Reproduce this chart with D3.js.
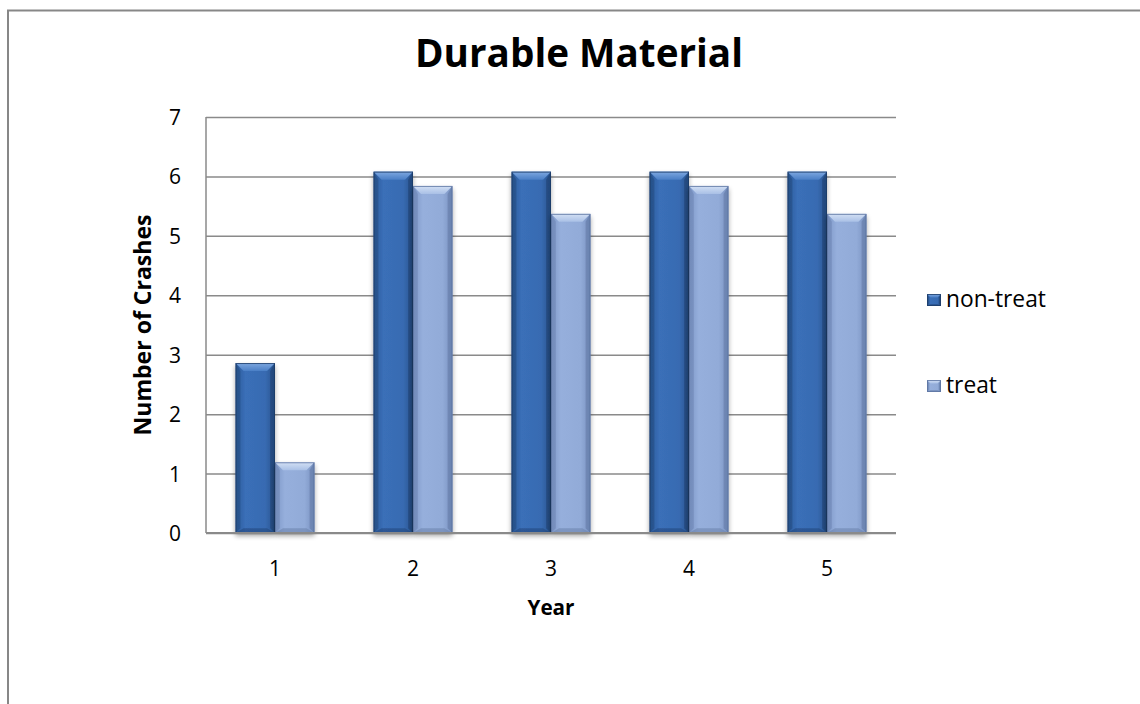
<!DOCTYPE html>
<html>
<head>
<meta charset="utf-8">
<script src="https://cdn.jsdelivr.net/npm/d3@7"></script>
<style>
  html, body { margin: 0; padding: 0; background: #fff; }
  svg { display: block; }
  text { font-family: "Open Sans", Lato, sans-serif; fill: #000; }
</style>
</head>
<body>
<svg id="chart" width="1140" height="704"></svg>
<script>
const categories = ["1", "2", "3", "4", "5"];
const seriesNames = ["non-treat", "treat"];
const nonTreat = [2.86, 6.08, 6.08, 6.08, 6.08];
const treat = [1.19, 5.84, 5.37, 5.84, 5.37];
const yTicks = [0, 1, 2, 3, 4, 5, 6, 7];
const chartTitle = "Durable Material";
const xTitle = "Year";
const yTitle = "Number of Crashes";

const svg = d3.select("#chart");
const W = 1140, H = 704;
const plot = { left: 206, right: 896, top: 117, bottom: 533 };
const FONT = "'Open Sans', Lato, sans-serif";

const defs = svg.append("defs");
const styles = {
  "non-treat": { body: ["#2B5A9A", "#3A6FB8", "#386BB2", "#27528D"], top: ["#7FA8E0", "#4A7FC6"], bottom: "#22467A", edge: "#1D3C68" },
  "treat": { body: ["#7D97C7", "#96AFDC", "#92ABD8", "#7891C0"], top: ["#D3E0F4", "#A9C0E6"], bottom: "#6A81AC", edge: "#5B73A0" }
};
Object.entries(styles).forEach(([k, s], i) => {
  const g = defs.append("linearGradient").attr("id", "body" + i).attr("x1", 0).attr("x2", 1).attr("y1", 0).attr("y2", 0);
  [0, 0.25, 0.75, 1].forEach((o, j) => g.append("stop").attr("offset", o).attr("stop-color", s.body[j]));
  const t = defs.append("linearGradient").attr("id", "top" + i).attr("x1", 0).attr("x2", 0).attr("y1", 0).attr("y2", 1);
  t.append("stop").attr("offset", 0).attr("stop-color", s.top[0]);
  t.append("stop").attr("offset", 1).attr("stop-color", s.top[1]);
});
const shadow = defs.append("filter").attr("id", "shadow").attr("x", "-20%").attr("y", "-20%").attr("width", "140%").attr("height", "140%");
shadow.append("feGaussianBlur").attr("in", "SourceAlpha").attr("stdDeviation", 2.5);
shadow.append("feOffset").attr("dx", 0).attr("dy", 3).attr("result", "b");
shadow.append("feComponentTransfer").append("feFuncA").attr("type", "linear").attr("slope", 0.35);
const fm = shadow.append("feMerge");
fm.append("feMergeNode");
fm.append("feMergeNode").attr("in", "SourceGraphic");

// outer chart border (only top and left visible)
svg.append("path")
  .attr("d", `M8,${H + 5} L8,10.5 L${W + 5},10.5`)
  .attr("fill", "none").attr("stroke", "#878787").attr("stroke-width", 2);

const x = d3.scaleBand().domain(categories).range([plot.left, plot.right]).paddingInner(0).paddingOuter(0);
const xs = d3.scaleBand().domain(seriesNames).range([0, x.bandwidth()]).paddingInner(0).paddingOuter(0.75);
const y = d3.scaleLinear().domain([0, 7]).range([plot.bottom, plot.top]);

// gridlines
const grid = svg.append("g").attr("transform", `translate(${plot.left},0)`)
  .call(d3.axisLeft(y).tickValues(yTicks).tickSize(-(plot.right - plot.left)).tickFormat(""));
grid.select(".domain").remove();
grid.selectAll("line").attr("stroke", "#8A8A8A").attr("stroke-width", 1.5);

const data = [];
categories.forEach((c, i) => {
  data.push({ cat: c, s: "non-treat", v: nonTreat[i], idx: 0 });
  data.push({ cat: c, s: "treat", v: treat[i], idx: 1 });
});

function drawBevelBar(g, x0, y0, w, h, idx, bevel) {
  const s = styles[seriesNames[idx]];
  const b = Math.min(bevel, h / 2, w / 4);
  g.append("rect").attr("x", x0).attr("y", y0).attr("width", w).attr("height", h).attr("fill", `url(#body${idx})`);
  g.append("path").attr("d", `M${x0},${y0} L${x0 + w},${y0} L${x0 + w - b},${y0 + b} L${x0 + b},${y0 + b} Z`).attr("fill", `url(#top${idx})`);
  g.append("path").attr("d", `M${x0},${y0 + h} L${x0 + w},${y0 + h} L${x0 + w - b},${y0 + h - b * 0.6} L${x0 + b},${y0 + h - b * 0.6} Z`).attr("fill", s.bottom).attr("opacity", 0.55);
  g.append("path").attr("d", `M${x0},${y0} L${x0 + b * 0.6},${y0 + b} L${x0 + b * 0.6},${y0 + h - b * 0.6} L${x0},${y0 + h} Z`).attr("fill", s.edge).attr("opacity", 0.35);
  g.append("path").attr("d", `M${x0 + w},${y0} L${x0 + w - b * 0.6},${y0 + b} L${x0 + w - b * 0.6},${y0 + h - b * 0.6} L${x0 + w},${y0 + h} Z`).attr("fill", s.edge).attr("opacity", 0.5);
  g.append("rect").attr("x", x0 + 0.5).attr("y", y0 + 0.5).attr("width", w - 1).attr("height", h - 1).attr("fill", "none").attr("stroke", s.edge).attr("stroke-width", 1).attr("opacity", 0.8);
}

const barsG = svg.append("g");
data.forEach(d => {
  const g = barsG.append("g").attr("filter", "url(#shadow)");
  const x0 = x(d.cat) + xs(d.s);
  const y0 = y(d.v);
  drawBevelBar(g, x0, y0, xs.bandwidth(), y(0) - y0, d.idx, 8);
});

// y axis line
svg.append("line").attr("x1", plot.left).attr("x2", plot.left).attr("y1", plot.top).attr("y2", plot.bottom)
  .attr("stroke", "#8A8A8A").attr("stroke-width", 1.5);
// x axis
const xAxis = svg.append("g").attr("transform", `translate(0,${plot.bottom})`)
  .call(d3.axisBottom(x).tickSize(0).tickPadding(0));
xAxis.select(".domain").attr("stroke", "#8A8A8A").attr("stroke-width", 2).attr("d", `M${plot.left},0H${plot.right}`);
xAxis.selectAll("text").attr("dy", null).attr("y", 43).attr("font-size", 21).attr("font-family", FONT).attr("fill", "#000");

// y tick labels
const yAxis = svg.append("g").attr("transform", `translate(${plot.left},0)`)
  .call(d3.axisLeft(y).tickValues(yTicks).tickSize(0).tickFormat(d3.format("d")));
yAxis.select(".domain").remove();
yAxis.selectAll("text").attr("x", -25).attr("dy", "0.36em").attr("text-anchor", "end").attr("font-size", 21).attr("font-family", FONT).attr("fill", "#000");

function fit(sel, target) {
  const fs = +sel.attr("font-size");
  const len = sel.node().getComputedTextLength();
  if (len > 0) sel.attr("font-size", (fs * target / len).toFixed(2));
  return sel;
}

// titles
fit(svg.append("text").attr("x", 579).attr("y", 67).attr("text-anchor", "middle")
  .attr("font-size", 34).attr("font-weight", "bold").text(chartTitle), 328);
fit(svg.append("text").attr("x", 551).attr("y", 615).attr("text-anchor", "middle")
  .attr("font-size", 19).attr("font-weight", "bold").text(xTitle), 47);
fit(svg.append("text").attr("transform", `translate(151,${(plot.top + plot.bottom) / 2}) rotate(-90)`)
  .attr("text-anchor", "middle").attr("font-size", 20).attr("font-weight", "bold").text(yTitle), 221);

// legend
const legY = [300, 386];
let legSize = 20;
seriesNames.forEach((n, i) => {
  const g = svg.append("g");
  drawBevelBar(g, 927, legY[i] - 6, 14, 12, i, 4);
  const t = svg.append("text").attr("x", 946).attr("y", legY[i] + 7).attr("font-size", legSize).text(n);
  if (i === 0) { fit(t, 100); legSize = +t.attr("font-size"); }
});
</script>
</body>
</html>
